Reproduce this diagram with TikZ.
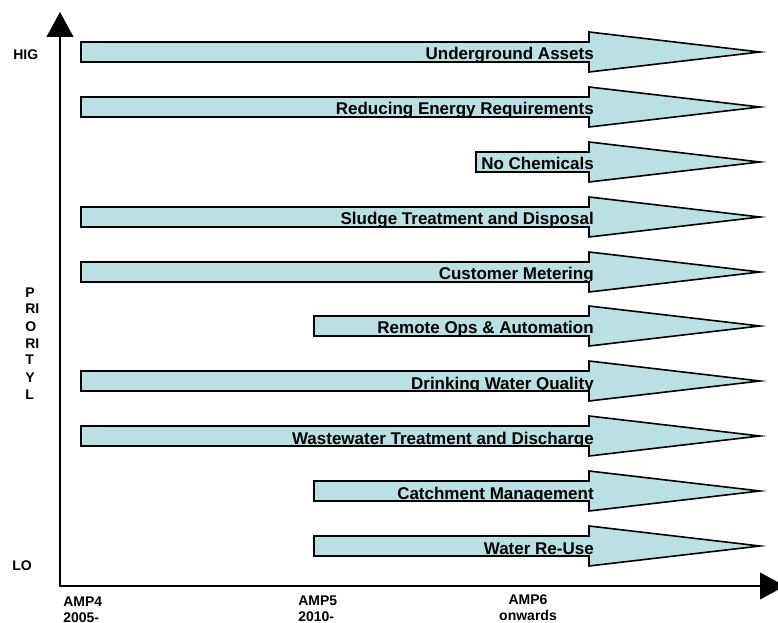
\documentclass[tikz,border=0pt]{standalone}
\usepackage{fontspec}
\setmainfont{Liberation Sans}
\usetikzlibrary{arrows.meta}
\definecolor{barfill}{RGB}{187,224,227}

\begin{document}
\begin{tikzpicture}[x=0.75pt, y=-0.75pt,
    blockarrow/.style={draw=black, line width=1.2pt, fill=barfill, line join=miter},
    axisline/.style={line width=1.5pt, {Triangle[length=18.75pt, width=20pt]}-{Triangle[length=18.75pt, width=20pt]}},
    tasklabel/.style={anchor=base east, inner sep=0pt, font=\fontsize{12.75}{15}\selectfont\bfseries},
    ticklabel/.style={inner sep=0pt, align=left, font=\fontsize{10.5}{12}\selectfont\bfseries}]
  \useasboundingbox (0,0) rectangle (778,623);

  % 軸を描く
  \coordinate (ytop) at (60,12);
  \coordinate (origin) at (60,586);
  \coordinate (xend) at (785,586);
  \draw[axisline] (ytop) -- (origin) -- (xend);

  % 矢印を描く
  \draw[blockarrow] (81,42) -- (589,42) -- (589,32) -- (760,52) -- (589,72) -- (589,62) -- (81,62) -- cycle;
  \draw[blockarrow] (81,97) -- (589,97) -- (589,87) -- (760,107) -- (589,127) -- (589,117) -- (81,117) -- cycle;
  \draw[blockarrow] (476,152) -- (589,152) -- (589,142) -- (760,162) -- (589,182) -- (589,172) -- (476,172) -- cycle;
  \draw[blockarrow] (81,207) -- (589,207) -- (589,197) -- (760,217) -- (589,237) -- (589,227) -- (81,227) -- cycle;
  \draw[blockarrow] (81,262) -- (589,262) -- (589,252) -- (760,272) -- (589,292) -- (589,282) -- (81,282) -- cycle;
  \draw[blockarrow] (314,316) -- (589,316) -- (589,306) -- (760,326) -- (589,346) -- (589,336) -- (314,336) -- cycle;
  \draw[blockarrow] (81,371) -- (589,371) -- (589,361) -- (760,381) -- (589,401) -- (589,391) -- (81,391) -- cycle;
  \draw[blockarrow] (81,426) -- (589,426) -- (589,416) -- (760,436) -- (589,456) -- (589,446) -- (81,446) -- cycle;
  \draw[blockarrow] (314,481) -- (589,481) -- (589,471) -- (760,491) -- (589,511) -- (589,501) -- (314,501) -- cycle;
  \draw[blockarrow] (314,536) -- (589,536) -- (589,526) -- (760,546) -- (589,566) -- (589,556) -- (314,556) -- cycle;

  % 項目名を入れる
  \begin{scope}
    \clip (81,32) rectangle (600,61);
    \node[tasklabel] (underground) at (594,60) {Underground Assets};
  \end{scope}
  \begin{scope}
    \clip (81,87) rectangle (600,116);
    \node[tasklabel] (energy) at (594,115) {Reducing Energy Requirements};
  \end{scope}
  \begin{scope}
    \clip (476,142) rectangle (600,171);
    \node[tasklabel] (chemicals) at (594,170) {No Chemicals};
  \end{scope}
  \begin{scope}
    \clip (81,197) rectangle (600,226);
    \node[tasklabel] (sludge) at (594,225) {Sludge Treatment and Disposal};
  \end{scope}
  \begin{scope}
    \clip (81,252) rectangle (600,281);
    \node[tasklabel] (metering) at (594,280) {Customer Metering};
  \end{scope}
  \begin{scope}
    \clip (314,306) rectangle (600,335);
    \node[tasklabel] (remoteops) at (594,334) {Remote Ops \& Automation};
  \end{scope}
  \begin{scope}
    \clip (81,361) rectangle (600,390);
    \node[tasklabel] (drinking) at (594,389) {Drinking Water Quality};
  \end{scope}
  \begin{scope}
    \clip (81,416) rectangle (600,445);
    \node[tasklabel] (wastewater) at (594,444) {Wastewater Treatment and Discharge};
  \end{scope}
  \begin{scope}
    \clip (314,471) rectangle (600,500);
    \node[tasklabel] (catchment) at (594,499) {Catchment Management};
  \end{scope}
  \begin{scope}
    \clip (314,526) rectangle (600,555);
    \node[tasklabel] (reuse) at (594,554) {Water Re-Use};
  \end{scope}

  % 軸の文字
  \node[ticklabel, anchor=base west] (high) at (13,60) {HIG};
  \node[ticklabel, anchor=base west] (low) at (12,570) {LO};
  \node[ticklabel, anchor=base west, font=\fontsize{10.5}{12.75}\selectfont\bfseries] (priority) at (25,399) {P\\RI\\O\\RI\\T\\Y\\L};
  \node[ticklabel, anchor=base west] (amp4) at (63,622) {AMP4\\2005-};
  \node[ticklabel, anchor=base west] (amp5) at (298,621) {AMP5\\2010-};
  \node[ticklabel, anchor=base, align=center] (amp6) at (528,620) {AMP6\\onwards};

\end{tikzpicture}
\end{document}
